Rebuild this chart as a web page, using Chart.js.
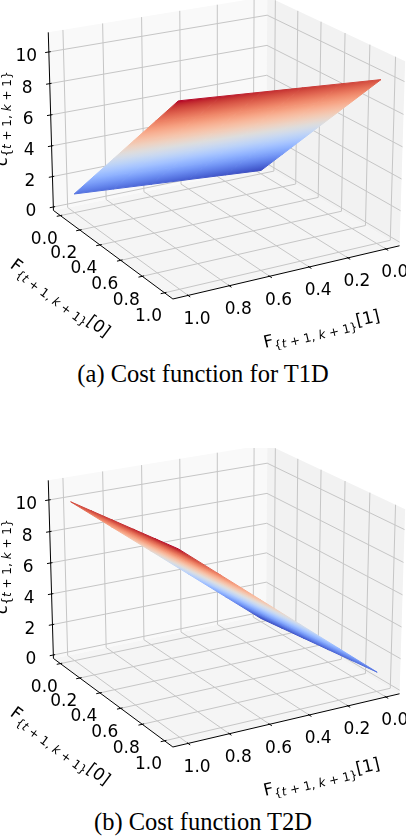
<!DOCTYPE html>
<html>
<head>
<meta charset="utf-8">
<title>Cost functions</title>
<script src="https://cdn.jsdelivr.net/npm/chart.js@4.4.1/dist/chart.umd.min.js"></script>
<style>
    html, body { margin: 0; padding: 0; background: #fff; overflow: hidden; }
    .panel { position: relative; width: 406px; height: 448px; }
    .panel canvas { position: absolute; left: 0; top: 0; }
    .caption {
        position: absolute; left: 0; top: 360px; width: 406px;
        text-align: center; line-height: 28px; color: #000;
        font-family: 'Liberation Serif', 'Times New Roman', serif; font-size: 24.5px;
    }
</style>
</head>
<body>
<div class="panel">
    <canvas id="chartT1D" width="406" height="350"></canvas>
    <div class="caption">(a) Cost function for T1D</div>
</div>
<div class="panel" style="height:388px">
    <canvas id="chartT2D" width="406" height="350"></canvas>
    <div class="caption">(b) Cost function T2D</div>
</div>
<script>
'use strict';

// grid of the surfaces (also the tick positions)
const F0_TICKS = [0.0, 0.2, 0.4, 0.6, 0.8, 1.0];
const F1_TICKS = [0.0, 0.2, 0.4, 0.6, 0.8, 1.0];
const Z_TICKS = [0, 2, 4, 6, 8, 10];
const F0_TICK_LABELS = ['0.0', '0.2', '0.4', '0.6', '0.8', '1.0'];
const F1_TICK_LABELS = ['0.0', '0.2', '0.4', '0.6', '0.8', '1.0'];
const Z_TICK_LABELS = ['0', '2', '4', '6', '8', '10'];

// cost values: rows follow F0_TICKS, columns follow F1_TICKS
const COST_T1D = [
    [0.0, 0.2, 0.4, 0.6, 0.8, 1.0],
    [2.0, 2.2, 2.4, 2.6, 2.8, 3.0],
    [4.0, 4.2, 4.4, 4.6, 4.8, 5.0],
    [6.0, 6.2, 6.4, 6.6, 6.8, 7.0],
    [8.0, 8.2, 8.4, 8.6, 8.8, 9.0],
    [10.0, 10.2, 10.4, 10.6, 10.8, 11.0],
];
const COST_T2D = [
    [0.0, 2.0, 4.0, 6.0, 8.0, 10.0],
    [0.2, 2.2, 4.2, 6.2, 8.2, 10.2],
    [0.4, 2.4, 4.4, 6.4, 8.4, 10.4],
    [0.6, 2.6, 4.6, 6.6, 8.6, 10.6],
    [0.8, 2.8, 4.8, 6.8, 8.8, 10.8],
    [1.0, 3.0, 5.0, 7.0, 9.0, 11.0],
];

const F_LIM = [-0.05, 1.05];
const Z_LIM = [0, 11];

// camera, close to a matplotlib 3d view (elev 20, azim -30, F1 axis inverted)
const VIEW = { elev: 20, azim: -30, dist: 10 };
const W = 406;
const H = 350;
const SCALE = 2160;
const CX = 223;
const CY = 138.5;

const MAIN_FONT = '17px "DejaVu Sans"';
const SUB_FONT = '12px "DejaVu Sans"';
const SUB_IT_FONT = 'italic 12px "DejaVu Sans"';

const COOLWARM = [
    [59, 76, 192], [68, 90, 204], [77, 104, 215], [87, 117, 225], [98, 130, 234],
    [108, 142, 241], [119, 154, 247], [130, 165, 251], [141, 176, 254], [152, 185, 255],
    [163, 194, 255], [174, 201, 253], [184, 208, 249], [194, 213, 244], [204, 217, 238],
    [213, 219, 230], [221, 221, 221], [229, 216, 209], [236, 211, 197], [241, 204, 184],
    [245, 196, 172], [247, 187, 160], [247, 177, 148], [247, 166, 135], [244, 154, 123],
    [241, 141, 111], [236, 127, 99], [229, 112, 88], [222, 96, 77], [213, 80, 66],
    [203, 62, 56], [192, 40, 47], [180, 4, 38],
];

const F_PAD = (F_LIM[1] - F_LIM[0]) / 48;
const Z_PAD = (Z_LIM[1] - Z_LIM[0]) / 48;
const F_BOX = [F_LIM[0] - F_PAD, F_LIM[1] + F_PAD];
const Z_BOX = [Z_LIM[0] - Z_PAD, Z_LIM[1] + Z_PAD];

const BOX_ASPECT = [4, 4, 3].map(function (v) { return v * 1.8294640721620434 / Math.hypot(4, 4, 3); });

function dot(a, b) {
    return a[0] * b[0] + a[1] * b[1] + a[2] * b[2];
}

const CAM = (function () {
    const e = VIEW.elev * Math.PI / 180;
    const a = VIEW.azim * Math.PI / 180;
    const n = [Math.cos(e) * Math.cos(a), Math.cos(e) * Math.sin(a), Math.sin(e)];
    const eye = BOX_ASPECT.map(function (v, i) { return v / 2 + VIEW.dist * n[i]; });
    return {
        n: n,
        u: [-Math.sin(a), Math.cos(a), 0],
        v: [-Math.sin(e) * Math.cos(a), -Math.sin(e) * Math.sin(a), Math.cos(e)],
        eye: eye,
    };
})();

function project(f0, f1, z) {
    const span = F_LIM[1] - F_LIM[0];
    const p = [
        (f0 - F_LIM[0]) / span * BOX_ASPECT[0],
        (F_LIM[1] - f1) / span * BOX_ASPECT[1],
        (z - Z_LIM[0]) / (Z_LIM[1] - Z_LIM[0]) * BOX_ASPECT[2],
    ];
    const d = [p[0] - CAM.eye[0], p[1] - CAM.eye[1], p[2] - CAM.eye[2]];
    const w = -dot(CAM.n, d);
    return { x: dot(CAM.u, d) / w, y: dot(CAM.v, d) / w, depth: w };
}

function toPx(chart, f0, f1, z) {
    const p = project(f0, f1, z);
    return [chart.scales.x.getPixelForValue(p.x), chart.scales.y.getPixelForValue(p.y)];
}

function coolwarm(t) {
    t = Math.max(0, Math.min(1, t));
    const pos = t * (COOLWARM.length - 1);
    const k = Math.min(COOLWARM.length - 2, Math.floor(pos));
    const f = pos - k;
    const a = COOLWARM[k];
    const b = COOLWARM[k + 1];
    return 'rgb(' + Math.round(a[0] + (b[0] - a[0]) * f) + ','
        + Math.round(a[1] + (b[1] - a[1]) * f) + ','
        + Math.round(a[2] + (b[2] - a[2]) * f) + ')';
}

// linear gradient across one cell, following the direction z grows on screen
function cellPaint(chart, pts, zs, zmin, zmax) {
    if (!chart.chartArea) {
        return 'transparent';
    }
    const xs = chart.scales.x;
    const ys = chart.scales.y;
    const p = pts.map(function (q) { return [xs.getPixelForValue(q.x), ys.getPixelForValue(q.y)]; });
    const lo = Math.min.apply(null, zs);
    const hi = Math.max.apply(null, zs);
    const norm = function (z) { return (z - zmin) / (zmax - zmin); };
    const det = (p[1][0] - p[0][0]) * (p[3][1] - p[0][1]) - (p[3][0] - p[0][0]) * (p[1][1] - p[0][1]);
    if (Math.abs(det) < 1e-6 || hi - lo < 1e-9) {
        return coolwarm(norm((lo + hi) / 2));
    }
    const dz1 = zs[1] - zs[0];
    const dz3 = zs[3] - zs[0];
    const ga = (dz1 * (p[3][1] - p[0][1]) - dz3 * (p[1][1] - p[0][1])) / det;
    const gb = ((p[1][0] - p[0][0]) * dz3 - (p[3][0] - p[0][0]) * dz1) / det;
    const g2 = ga * ga + gb * gb;
    const sLo = (lo - zs[0]) / g2;
    const sHi = (hi - zs[0]) / g2;
    const grad = chart.ctx.createLinearGradient(
        p[0][0] + ga * sLo, p[0][1] + gb * sLo,
        p[0][0] + ga * sHi, p[0][1] + gb * sHi
    );
    for (let k = 0; k <= 8; k++) {
        grad.addColorStop(k / 8, coolwarm(norm(lo + (hi - lo) * k / 8)));
    }
    return grad;
}

function surfaceDatasets(cost) {
    const flat = [].concat.apply([], cost);
    const zmin = Math.min.apply(null, flat);
    const zmax = Math.max.apply(null, flat);
    const list = [];

    for (let i = 0; i < F0_TICKS.length - 1; i++) {
        for (let j = 0; j < F1_TICKS.length - 1; j++) {
            const idx = [[i, j], [i + 1, j], [i + 1, j + 1], [i, j + 1]];
            const zs = idx.map(function (k) { return cost[k[0]][k[1]]; });
            const pts = idx.map(function (k) { return project(F0_TICKS[k[0]], F1_TICKS[k[1]], cost[k[0]][k[1]]); });
            const depth = pts.reduce(function (s, q) { return s + q.depth; }, 0) / 4;
            const paint = function (context) { return cellPaint(context.chart, pts, zs, zmin, zmax); };

            list.push({
                data: pts.concat([pts[0]]).map(function (q) { return { x: q.x, y: q.y }; }),
                showLine: true,
                fill: 'shape',
                tension: 0,
                pointRadius: 0,
                pointHoverRadius: 0,
                borderWidth: 1,
                borderJoinStyle: 'round',
                borderColor: paint,
                backgroundColor: paint,
                order: Math.round(depth * 10000),
                clip: false,
            });
        }
    }
    return list;
}

function strokePath(ctx, chart, pts3) {
    ctx.beginPath();
    pts3.forEach(function (q, k) {
        const p = toPx(chart, q[0], q[1], q[2]);
        if (k) {
            ctx.lineTo(p[0], p[1]);
        } else {
            ctx.moveTo(p[0], p[1]);
        }
    });
}

function drawRuns(ctx, x, y, angle, runs) {
    ctx.save();
    ctx.translate(x, y);
    ctx.rotate(angle);
    ctx.textAlign = 'left';
    ctx.textBaseline = 'alphabetic';
    let total = 0;
    runs.forEach(function (r) {
        ctx.font = r.font;
        r.w = ctx.measureText(r.text).width;
        total += r.w;
    });
    let pos = -total / 2;
    runs.forEach(function (r) {
        ctx.font = r.font;
        ctx.fillText(r.text, pos, r.dy);
        pos += r.w;
    });
    ctx.restore();
}

function labelRuns(head, headFont, tail) {
    const runs = [
        { text: head, font: headFont, dy: 6 },
        { text: '{', font: SUB_FONT, dy: 10 },
        { text: 't', font: SUB_IT_FONT, dy: 10 },
        { text: ' + 1, ', font: SUB_FONT, dy: 10 },
        { text: 'k', font: SUB_IT_FONT, dy: 10 },
        { text: ' + 1}', font: SUB_FONT, dy: 10 },
    ];
    if (tail) {
        runs.push({ text: tail, font: MAIN_FONT, dy: 6 });
    }
    return runs;
}

const frame3d = {
    id: 'frame3d',
    beforeDatasetsDraw: function (chart) {
        const ctx = chart.ctx;
        const a0 = F_BOX[0], a1 = F_BOX[1], z0 = Z_BOX[0], z1 = Z_BOX[1];
        const dt = (F_LIM[1] - F_LIM[0]) / 12;

        ctx.save();
        // panes
        [
            { c: '#f5f5f5', p: [[a0, a0, z0], [a1, a0, z0], [a1, a1, z0], [a0, a1, z0]] },
            { c: '#f9f9f9', p: [[a0, a0, z0], [a0, a1, z0], [a0, a1, z1], [a0, a0, z1]] },
            { c: '#f2f2f2', p: [[a0, a0, z0], [a1, a0, z0], [a1, a0, z1], [a0, a0, z1]] },
        ].forEach(function (pane) {
            strokePath(ctx, chart, pane.p);
            ctx.closePath();
            ctx.fillStyle = pane.c;
            ctx.fill();
        });

        // grid lines
        ctx.strokeStyle = '#c6c6c6';
        ctx.lineWidth = 1;
        F0_TICKS.forEach(function (f) {
            strokePath(ctx, chart, [[f, a1, z0], [f, a0, z0], [f, a0, z1]]);
            ctx.stroke();
        });
        F1_TICKS.forEach(function (f) {
            strokePath(ctx, chart, [[a1, f, z0], [a0, f, z0], [a0, f, z1]]);
            ctx.stroke();
        });
        Z_TICKS.forEach(function (z) {
            strokePath(ctx, chart, [[a1, a0, z], [a0, a0, z], [a0, a1, z]]);
            ctx.stroke();
        });

        // axis lines and tick marks
        ctx.strokeStyle = '#000';
        ctx.lineWidth = 1;
        strokePath(ctx, chart, [[a0, a1, z1], [a0, a1, z0], [a1, a1, z0], [a1, a0, z0]]);
        ctx.stroke();
        F0_TICKS.forEach(function (f) {
            strokePath(ctx, chart, [[f, a1 - 0.1 * dt, z0], [f, a1 + 0.2 * dt, z0]]);
            ctx.stroke();
        });
        F1_TICKS.forEach(function (f) {
            strokePath(ctx, chart, [[a1 - 0.1 * dt, f, z0], [a1 + 0.2 * dt, f, z0]]);
            ctx.stroke();
        });
        Z_TICKS.forEach(function (z) {
            strokePath(ctx, chart, [[a0, a1 - 0.1 * dt, z], [a0, a1 + 0.2 * dt, z]]);
            ctx.stroke();
        });
        ctx.restore();
    },
    afterDatasetsDraw: function (chart) {
        const ctx = chart.ctx;
        const a0 = F_BOX[0], a1 = F_BOX[1], z0 = Z_BOX[0], z1 = Z_BOX[1];

        ctx.save();
        ctx.fillStyle = '#000';
        ctx.font = MAIN_FONT;
        ctx.textAlign = 'center';
        ctx.textBaseline = 'middle';
        F0_TICKS.forEach(function (f, k) {
            const p = toPx(chart, f, a1, z0);
            ctx.fillText(F0_TICK_LABELS[k], p[0] - 16, p[1] + 24);
        });
        F1_TICKS.forEach(function (f, k) {
            const p = toPx(chart, a1, f, z0);
            ctx.fillText(F1_TICK_LABELS[k], p[0] + 9, p[1] + 24);
        });
        Z_TICKS.forEach(function (z, k) {
            const p = toPx(chart, a0, a1, z);
            ctx.fillText(Z_TICK_LABELS[k], p[0] - 22.5, p[1] + 5);
        });

        // axis titles, turned along their axes
        let s = toPx(chart, a0, a1, z0);
        let e = toPx(chart, a1, a1, z0);
        let m = toPx(chart, 0.5, a1, z0);
        drawRuns(ctx, m[0] - 49.5, m[1] + 45, Math.atan2(e[1] - s[1], e[0] - s[0]),
            labelRuns('F', MAIN_FONT, '[0]'));

        s = toPx(chart, a1, a1, z0);
        e = toPx(chart, a1, a0, z0);
        m = toPx(chart, a1, 0.5, z0);
        drawRuns(ctx, m[0] + 32, m[1] + 57, Math.atan2(e[1] - s[1], e[0] - s[0]),
            labelRuns('F', MAIN_FONT, '[1]'));

        m = toPx(chart, a0, a1, (z0 + z1) / 2);
        drawRuns(ctx, m[0] - 49.5, m[1] - 4, -Math.PI / 2,
            labelRuns('c', 'italic ' + MAIN_FONT, ''));
        ctx.restore();
    },
};

function surfaceChart(canvasId, cost) {
    const canvas = document.getElementById(canvasId);
    return new Chart(canvas, {
        type: 'scatter',
        data: { datasets: surfaceDatasets(cost) },
        options: {
            responsive: false,
            animation: false,
            events: [],
            layout: { padding: 0 },
            plugins: { legend: { display: false }, tooltip: { enabled: false } },
            scales: {
                x: { type: 'linear', display: false, min: -CX / SCALE, max: (W - CX) / SCALE },
                y: { type: 'linear', display: false, min: (CY - H) / SCALE, max: CY / SCALE },
            },
        },
        plugins: [frame3d],
    });
}

surfaceChart('chartT1D', COST_T1D);
surfaceChart('chartT2D', COST_T2D);
</script>
</body>
</html>
